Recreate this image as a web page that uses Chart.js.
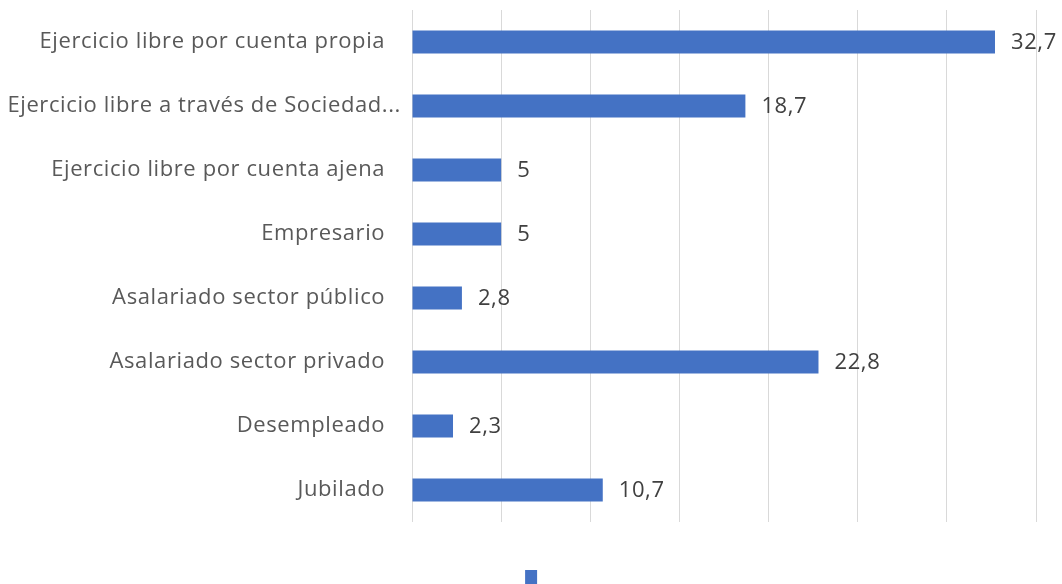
<!DOCTYPE html>
<html>
<head>
<meta charset="utf-8">
<script src="https://cdn.jsdelivr.net/npm/chart.js@4"></script>
<style>
  html, body { margin: 0; padding: 0; background: #fff; overflow: hidden; }
  #wrap { width: 1062px; height: 594px; }
</style>
</head>
<body>
<div id="wrap"><canvas id="myChart" width="1062" height="594"></canvas></div>
<script>
const categories = [
  "Ejercicio libre por cuenta propia",
  "Ejercicio libre a través de Sociedad...",
  "Ejercicio libre por cuenta ajena",
  "Empresario",
  "Asalariado sector público",
  "Asalariado sector privado",
  "Desempleado",
  "Jubilado",
];
const values = [32.7, 18.7, 5, 5, 2.8, 22.8, 2.3, 10.7];
const xTicks = [0, 5, 10, 15, 20, 25, 30, 35];

const FONT = "'Open Sans', sans-serif";
const SPACING = "0.6px";

// slightly wider lettering, closer to the original font
const spacing = {
  id: "spacing",
  beforeLayout(chart) { chart.ctx.letterSpacing = SPACING; },
  beforeDraw(chart) { chart.ctx.letterSpacing = SPACING; },
};

// value labels at the end of each bar
const valueLabels = {
  id: "valueLabels",
  afterDatasetsDraw(chart) {
    const ctx = chart.ctx;
    const meta = chart.getDatasetMeta(0);
    ctx.save();
    ctx.font = "22px " + FONT;
    ctx.fillStyle = "#404040";
    ctx.textAlign = "left";
    ctx.textBaseline = "middle";
    meta.data.forEach((bar, i) => {
      const txt = String(values[i]).replace(".", ",");
      ctx.fillText(txt, bar.x + 16, bar.y + 1);
    });
    ctx.restore();
  },
};

new Chart(document.getElementById("myChart"), {
  type: "bar",
  plugins: [spacing, valueLabels],
  data: {
    labels: categories,
    datasets: [
      {
        // blank series name, only the legend swatch shows
        label: "\u2003\u2003",
        data: values,
        backgroundColor: "rgb(68, 114, 196)",
        barPercentage: 0.36,
        categoryPercentage: 1,
      },
    ],
  },
  options: {
    indexAxis: "y",
    responsive: false,
    animation: false,
    layout: { padding: { top: 10, right: 26, left: 0, bottom: 0 } },
    plugins: {
      tooltip: { enabled: false },
      legend: {
        position: "bottom",
        rtl: true,
        labels: {
          boxWidth: 12,
          boxHeight: 14,
          padding: 10,
          font: { size: 10 },
        },
      },
    },
    scales: {
      x: {
        min: 0,
        max: 35,
        afterBuildTicks(axis) {
          axis.ticks = xTicks.map((v) => ({ value: v }));
        },
        ticks: { display: false },
        grid: { color: "#d9d9d9", drawTicks: false },
        border: { display: false },
        afterFit(axis) { axis.height = 38; },
      },
      y: {
        grid: { display: false },
        border: { display: false },
        afterFit(axis) {
          axis.width = 412;
          axis.paddingTop = 0;
          axis.paddingBottom = 0;
        },
        ticks: {
          color: "#595959",
          padding: 3,
          font: { family: FONT, size: 22 },
          // the truncated label runs closer to the bars, like the original
          callback(value, i) {
            const lab = categories[i];
            return i === 1 ? lab : lab + "\u2002\u2009";
          },
        },
      },
    },
  },
});
</script>
</body>
</html>
